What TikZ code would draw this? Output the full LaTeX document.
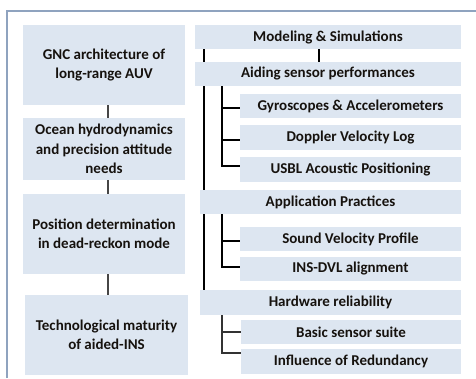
\documentclass[tikz,border=0pt]{standalone}
\usepackage{fontspec}
\setmainfont{Carlito}
\usetikzlibrary{backgrounds}
\definecolor{boxfill}{RGB}{221,230,241}
\definecolor{framec}{RGB}{143,163,191}
\definecolor{textc}{RGB}{22,18,14}
\definecolor{leftline}{RGB}{70,70,70}
\begin{document}
\begin{tikzpicture}[x=1pt,y=-1pt,
  box/.style={fill=boxfill, inner sep=0pt, align=center, text=textc,
    font=\bfseries\fontsize{15}{19.5}\selectfont},
  leftbox/.style={box, minimum width=162pt, minimum height=80pt},
  topbox/.style={box, minimum width=266pt, minimum height=24pt},
  groupbox/.style={box, minimum width=261pt, minimum height=24.5pt},
  itembox/.style={box, minimum width=221pt, minimum height=24.5pt},
  frameline/.style={draw=framec, line width=1.8pt},
  lline/.style={draw=leftline, line width=1.5pt},
  rline/.style={draw=black, line width=1.8pt},
  hline/.style={draw=black!80, line width=1.2pt}
]
\useasboundingbox (0,0) rectangle (476,378);
\draw[frameline] (7,378) -- (7,11) -- (476,11);

% left column
\node[leftbox] (b1) at (104,65) {GNC architecture of\\long-range AUV};
\node[leftbox, minimum height=62pt] (b2) at (104,149) {Ocean hydrodynamics\\and precision attitude\\needs};
\node[leftbox] (b3) at (104,234) {Position determination\\in dead-reckon mode};
\node[leftbox, minimum width=163pt] (b4) at (106.5,335) {Technological maturity\\of aided-INS};

% right column
\node[topbox] (m) at (328,37) {Modeling \& Simulations};
\node[topbox] (a) at (328,74) {Aiding sensor performances};
\node[itembox] (g) at (350.5,106) {Gyroscopes \& Accelerometers};
\node[itembox] (d) at (350.5,137.5) {Doppler Velocity Log};
\node[itembox] (u) at (350.5,169.5) {USBL Acoustic Positioning};
\node[groupbox] (ap) at (330.5,202) {Application Practices};
\node[itembox] (sv) at (350.5,239) {Sound Velocity Profile};
\node[itembox] (id) at (350.5,269) {INS-DVL alignment};
\node[groupbox] (hw) at (330.5,302.5) {Hardware reliability};
\node[itembox, minimum width=220pt] (bs) at (351,332) {Basic sensor suite};
\node[itembox, minimum width=220pt] (in) at (351,361.5) {Influence of Redundancy};

\coordinate (lx) at (108,0);
\coordinate (tx) at (204,0);
\coordinate (mx) at (319,0);
\coordinate (cx) at (222,0);

\begin{scope}[on background layer]
  \draw[lline] (b1.south -| lx) -- (b2.north -| lx);
  \draw[lline] (b2.south -| lx) -- (b3.north -| lx);
  \draw[lline] (b3.south -| lx) -- (b4.north -| lx);

  \draw[rline] (m.south -| tx) -- (hw.north -| tx);
  \draw[rline] (m.south -| mx) -- (a.north -| mx);

  \draw[rline] (a.south -| cx) -- ([yshift=3.5pt]u.west -| cx) -- ([yshift=3.5pt]u.west);
  \draw[rline] ([yshift=-2pt]g.west -| cx) -- ([yshift=-2pt]g.west);
  \draw[rline] ([yshift=-2.5pt]d.west -| cx) -- ([yshift=-2.5pt]d.west);

  \draw[rline] (ap.south -| cx) -- ([yshift=2pt]id.west -| cx) -- ([yshift=2pt]id.west);
  \draw[rline] ([yshift=-2pt]sv.west -| cx) -- ([yshift=-2pt]sv.west);

  \draw[hline] (hw.south -| cx) -- ([yshift=8.5pt]in.west -| cx) -- ([yshift=8.5pt]in.west);
  \draw[hline] (bs.west -| cx) -- (bs.west);
\end{scope}
\end{tikzpicture}
\end{document}
